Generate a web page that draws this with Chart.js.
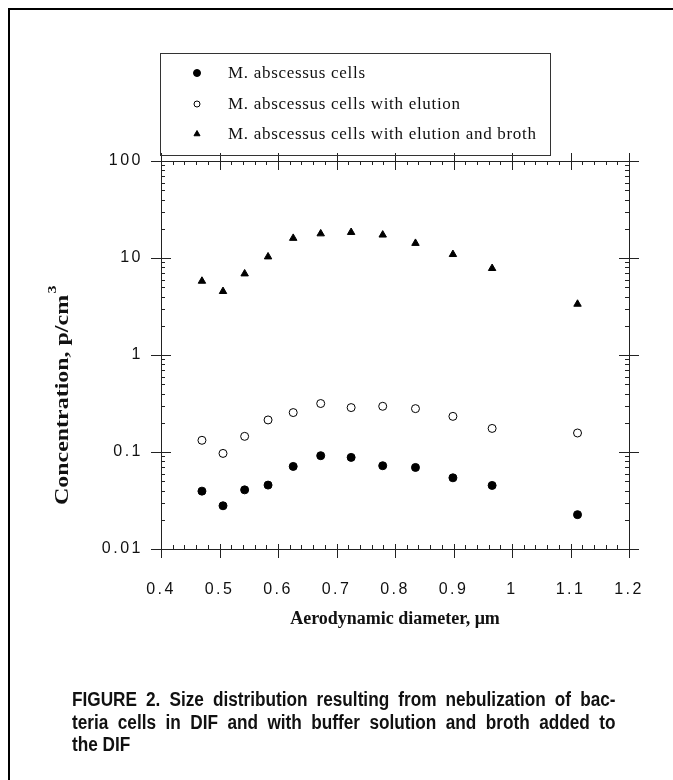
<!DOCTYPE html>
<html lang="en">
<head>
  <meta charset="UTF-8" />
  <title>Figure 2 - Size distribution</title>
  <script src="https://cdn.jsdelivr.net/npm/chart.js"></script>
  <style>
    html, body { margin: 0; padding: 0; background: #fff; }
    .page { position: relative; width: 673px; height: 780px; overflow: hidden; }
    .frame { position: absolute; left: 8px; top: 8px; right: -10px; bottom: -10px;
             border-left: 2px solid #000; border-top: 2px solid #000; }
    #chart { position: absolute; left: 0; top: 0; }
    /* condensed bold caption: regular bold face squeezed horizontally */
    .caption { position: absolute; left: 72px; top: 688px; width: 632px; color: #111;
               transform: scaleX(0.86); transform-origin: left top;
               font: bold 20px/22.7px "Liberation Sans", Arial, sans-serif; }
    .caption span { display: block; white-space: nowrap; text-align: justify; text-align-last: justify; }
    .caption span.last { text-align-last: left; }
  </style>
</head>
<body>
  <div class="page">
    <div class="frame"></div>
    <canvas id="chart" width="673" height="780"></canvas>
    <div class="caption">
      <span>FIGURE 2. Size distribution resulting from nebulization of bac-</span>
      <span>teria cells in DIF and with buffer solution and broth added to</span>
      <span class="last">the DIF</span>
    </div>
  </div>

  <script>
    // values (aerodynamic diameter in um, concentration in p/cm3)
    const diameters = [0.470, 0.506, 0.543, 0.583, 0.626, 0.673, 0.725, 0.779, 0.835, 0.899, 0.966, 1.112];
    const cellsOnly = [0.0395, 0.0279, 0.0407, 0.0456, 0.071, 0.0916, 0.088, 0.0722, 0.0693, 0.0542, 0.0452, 0.0226];
    const withElution = [0.132, 0.0967, 0.145, 0.214, 0.255, 0.316, 0.287, 0.296, 0.28, 0.233, 0.175, 0.157];
    const withBroth = [5.78, 4.53, 6.88, 10.3, 16.0, 17.8, 18.4, 17.3, 14.2, 10.9, 7.82, 3.35];

    const seriesLabels = [
      'M. abscessus cells',
      'M. abscessus cells with elution',
      'M. abscessus cells with elution and broth'
    ];
    const xTickValues = [0.4, 0.5, 0.6, 0.7, 0.8, 0.9, 1, 1.1, 1.2];
    const yTickValues = [0.01, 0.1, 1, 10, 100];
    const xTitle = 'Aerodynamic diameter, \u03bcm';
    const yTitle = 'Concentration, p/cm';
    const yTitleSup = '3';

    const toPoints = vals => diameters.map((d, i) => ({ x: d, y: vals[i] }));

    Chart.defaults.color = '#111';

    // frame, tick marks on all four sides, boxed legend and the y title
    const figurePlugin = {
      id: 'figure',
      afterDatasetsDraw(chart) {
        // tick labels are drawn after the datasets (ticks.z = 1), spaced out like the scan
        chart.ctx.letterSpacing = '2.5px';
      },
      afterDraw(chart) {
        const ctx = chart.ctx;
        ctx.letterSpacing = '0px';
        const { left, right, top, bottom } = chart.chartArea;
        const xs = chart.scales.x, ys = chart.scales.y;
        const r = v => Math.round(v) + 0.5;

        ctx.save();
        ctx.strokeStyle = '#222';
        ctx.lineWidth = 1;
        ctx.strokeRect(r(left), r(top), Math.round(right - left), Math.round(bottom - top));

        ctx.beginPath();
        // x major ticks
        xTickValues.forEach(v => {
          const px = r(xs.getPixelForValue(v));
          ctx.moveTo(px, bottom - 5); ctx.lineTo(px, bottom + 9);
          ctx.moveTo(px, top - 8); ctx.lineTo(px, top + 9);
        });
        // x minor ticks every 0.02
        for (let i = 21; i < 60; i++) {
          if (i % 5 === 0) continue;
          const px = r(xs.getPixelForValue(i / 50));
          ctx.moveTo(px, bottom); ctx.lineTo(px, bottom - 4);
          ctx.moveTo(px, top); ctx.lineTo(px, top + 4);
        }
        // y major ticks
        yTickValues.forEach(v => {
          const py = r(ys.getPixelForValue(v));
          ctx.moveTo(left - 10, py); ctx.lineTo(left + 10, py);
          ctx.moveTo(right - 10, py); ctx.lineTo(right + 10, py);
        });
        // y minor ticks 2..9 per decade
        yTickValues.slice(0, -1).forEach(d => {
          for (let k = 2; k <= 9; k++) {
            const py = r(ys.getPixelForValue(k * d));
            ctx.moveTo(left, py); ctx.lineTo(left + 4, py);
            ctx.moveTo(right, py); ctx.lineTo(right - 4, py);
          }
        });
        ctx.stroke();

        // boxed legend above the plot
        ctx.strokeStyle = '#333';
        ctx.strokeRect(160.5, 53.5, 390, 102);
        ctx.fillStyle = '#111';
        ctx.font = '17px "Liberation Serif", "Times New Roman", serif';
        ctx.textBaseline = 'middle';
        ctx.textAlign = 'left';
        ctx.letterSpacing = '0.7px';
        const rowY = [73, 104, 134];
        chart.data.datasets.forEach((ds, i) => {
          ctx.save();
          ctx.fillStyle = ds.backgroundColor;
          ctx.strokeStyle = ds.borderColor;
          ctx.lineWidth = ds.borderWidth;
          Chart.helpers.drawPoint(ctx, { pointStyle: ds.pointStyle, radius: ds.legendRadius, rotation: 0, borderWidth: ds.borderWidth }, 197, rowY[i]);
          ctx.restore();
          ctx.fillText(ds.label, 228, rowY[i] + 1);
        });
        ctx.letterSpacing = '0px';

        // y axis title, stretched along its length as in the original
        ctx.translate(68, 396);
        ctx.rotate(-Math.PI / 2);
        ctx.scale(1.33, 1);
        ctx.textBaseline = 'alphabetic';
        ctx.font = 'bold 18px "Liberation Serif", "Times New Roman", serif';
        const w = ctx.measureText(yTitle).width;
        ctx.font = 'bold 12px "Liberation Serif", "Times New Roman", serif';
        const ws = ctx.measureText(yTitleSup).width;
        const x0 = -(w + ws) / 2;
        ctx.font = 'bold 18px "Liberation Serif", "Times New Roman", serif';
        ctx.fillText(yTitle, x0, 0);
        ctx.font = 'bold 12px "Liberation Serif", "Times New Roman", serif';
        ctx.fillText(yTitleSup, x0 + w + 1, -12);
        ctx.restore();
      }
    };

    const chart = new Chart(document.getElementById('chart'), {
      type: 'scatter',
      data: {
        datasets: [
          { label: seriesLabels[0], data: toPoints(cellsOnly), pointStyle: 'circle',
            backgroundColor: '#000', borderColor: '#000', borderWidth: 1, pointRadius: 4, legendRadius: 3.5 },
          { label: seriesLabels[1], data: toPoints(withElution), pointStyle: 'circle',
            backgroundColor: '#fff', borderColor: '#000', borderWidth: 1, pointRadius: 4, legendRadius: 3 },
          { label: seriesLabels[2], data: toPoints(withBroth), pointStyle: 'triangle',
            backgroundColor: '#000', borderColor: '#000', borderWidth: 1, pointRadius: 4.3, legendRadius: 3.5 }
        ]
      },
      options: {
        responsive: false,
        animation: false,
        events: [],
        layout: { padding: { left: 0, right: 44, top: 161, bottom: 150 } },
        plugins: {
          legend: { display: false },
          tooltip: { enabled: false }
        },
        scales: {
          x: {
            type: 'linear',
            min: 0.4,
            max: 1.2,
            afterBuildTicks: s => { s.ticks = xTickValues.map(v => ({ value: v })); },
            afterFit: s => { s.height = 81; },
            grid: { display: false, drawTicks: false },
            border: { display: false },
            ticks: {
              z: 1,
              padding: 31,
              maxRotation: 0,
              autoSkip: false,
              font: { family: '"Liberation Sans", Arial, sans-serif', size: 16 },
              callback: v => String(v)
            },
            title: {
              display: true,
              text: xTitle,
              padding: 0,
              font: { family: '"Liberation Serif", "Times New Roman", serif', size: 18, weight: 'bold' }
            }
          },
          y: {
            type: 'logarithmic',
            min: 0.01,
            max: 100,
            afterBuildTicks: s => { s.ticks = yTickValues.map(v => ({ value: v })); },
            afterFit: s => { s.width = 161; },
            grid: { display: false, drawTicks: false },
            border: { display: false },
            ticks: {
              z: 1,
              padding: 18,
              autoSkip: false,
              font: { family: '"Liberation Sans", Arial, sans-serif', size: 16 },
              callback: v => String(v)
            }
          }
        }
      },
      plugins: [figurePlugin]
    });
  </script>
</body>
</html>
